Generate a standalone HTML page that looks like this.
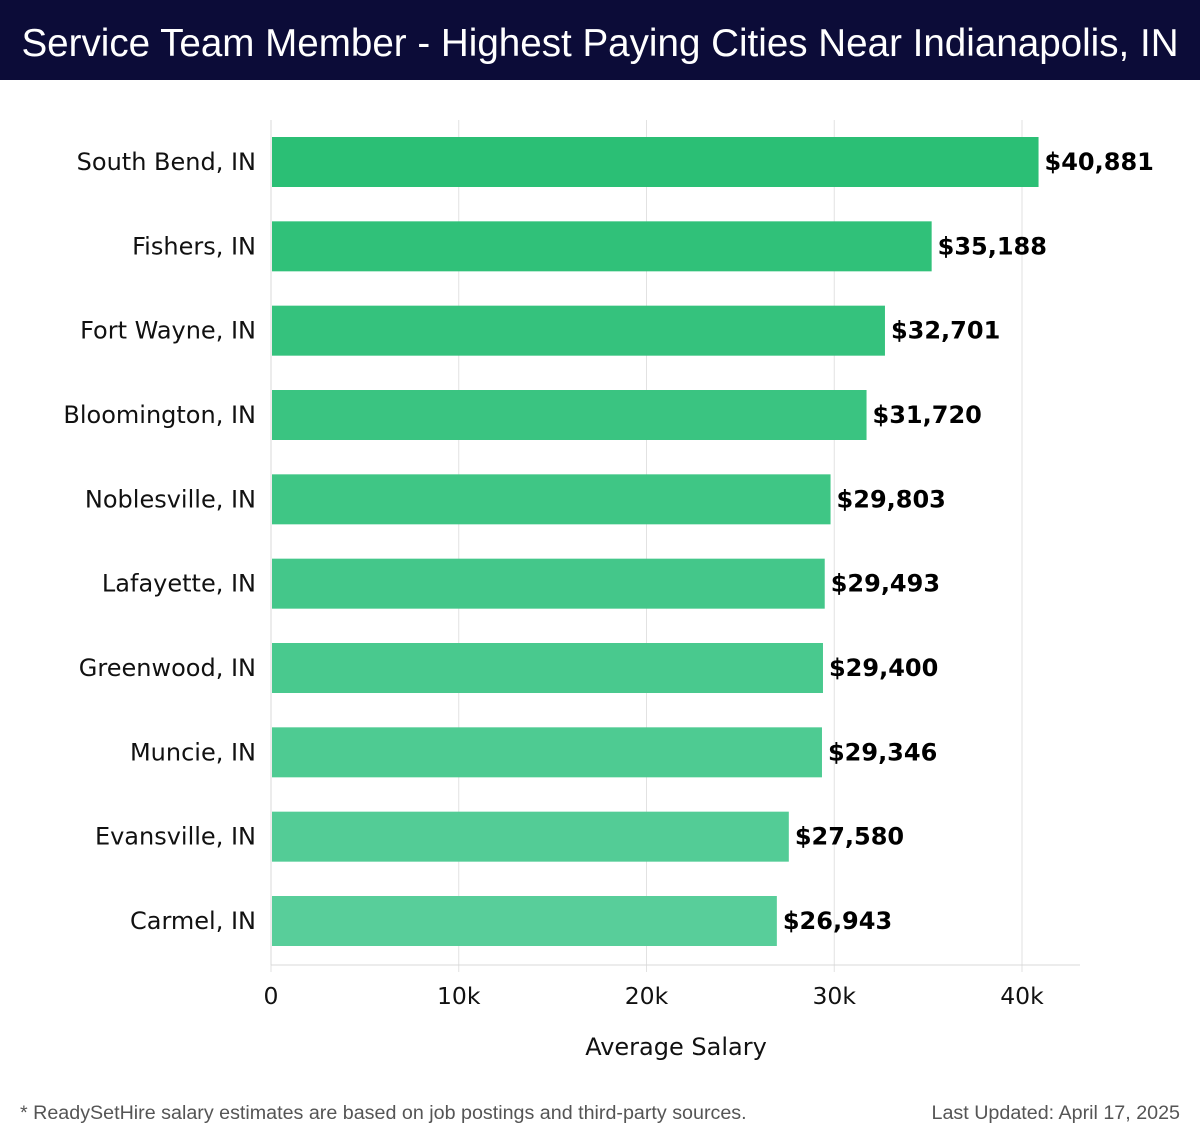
<!DOCTYPE html>
<html><head><meta charset="utf-8"><style>
body{margin:0;width:1200px;height:1140px;background:#fff;overflow:hidden;font-family:"DejaVu Sans","Liberation Sans",sans-serif}
#title{position:absolute;left:0;top:0;width:1200px;height:80px;background:#0c0c38;color:#fff;font-family:"Liberation Sans",sans-serif;font-size:38.6px;line-height:88px;text-align:center;white-space:nowrap}
svg{position:absolute;left:0;top:0}
</style></head><body>
<div id="title">Service Team Member - Highest Paying Cities Near Indianapolis, IN</div>
<svg id="chart" width="1200" height="1140"></svg>
<script>
const cities=["South Bend, IN","Fishers, IN","Fort Wayne, IN","Bloomington, IN","Noblesville, IN","Lafayette, IN","Greenwood, IN","Muncie, IN","Evansville, IN","Carmel, IN"];
const salaries=[40881,35188,32701,31720,29803,29493,29400,29346,27580,26943];
const valueLabels=["$40,881","$35,188","$32,701","$31,720","$29,803","$29,493","$29,400","$29,346","$27,580","$26,943"];
const ticks=[0,10000,20000,30000,40000];
const tickLabels=["0","10k","20k","30k","40k"];
const NS="http://www.w3.org/2000/svg";
const svg=document.getElementById('chart');
const x=v=>271+v*(1022-271)/40000;
const yc=i=>162+i*(921-162)/9;
function mk(t,a,p){const e=document.createElementNS(NS,t);for(const k in a)e.setAttribute(k,a[k]);(p||svg).appendChild(e);return e;}
ticks.forEach((t,i)=>{
 const g=mk('line',{x1:x(t),x2:x(t),y1:120,y2:972,stroke:'#e2e2e2','stroke-width':1});
 
 
 const l=mk('text',{x:x(t),y:1004,'text-anchor':'middle','font-size':23.5,fill:'#111'});
 l.textContent=tickLabels[i];
 
 
});
const ax=mk('line',{x1:271,x2:1080,y1:965,y2:965,stroke:'#d8d8d8','stroke-width':1});


const ay=mk('line',{x1:271,x2:271,y1:120,y2:965,stroke:'#d8d8d8','stroke-width':1});


function col(i){const a=[43,191,117],b=[88,206,154];const f=i/9;return 'rgb('+a.map((c,k)=>Math.round(c+(b[k]-c)*f)).join(',')+')';}
cities.forEach((c,i)=>{
 const y=yc(i);
 const r=mk('rect',{x:272,y:y-25,width:x(salaries[i])-272,height:50,fill:col(i)});
 
 
 const t=mk('text',{x:x(salaries[i])+6,y:y+8,'font-size':24,'font-weight':'bold',fill:'#000'});
 t.textContent=valueLabels[i];
 
 
 const n=mk('text',{x:256,y:y+8,'text-anchor':'end','font-size':24,fill:'#111'});
 n.textContent=c;
 
 
});
const xt=mk('text',{x:676,y:1055,'text-anchor':'middle','font-size':24,fill:'#111'});
xt.textContent='Average Salary';


const f1=mk('text',{x:20,y:1119,'font-size':19.7,fill:'#555','font-family':'Liberation Sans, sans-serif'});
f1.textContent='* ReadySetHire salary estimates are based on job postings and third-party sources.';


const f2=mk('text',{x:1180,y:1119,'text-anchor':'end','font-size':19.7,fill:'#555','font-family':'Liberation Sans, sans-serif'});
f2.textContent='Last Updated: April 17, 2025';


</script>
</body></html>
